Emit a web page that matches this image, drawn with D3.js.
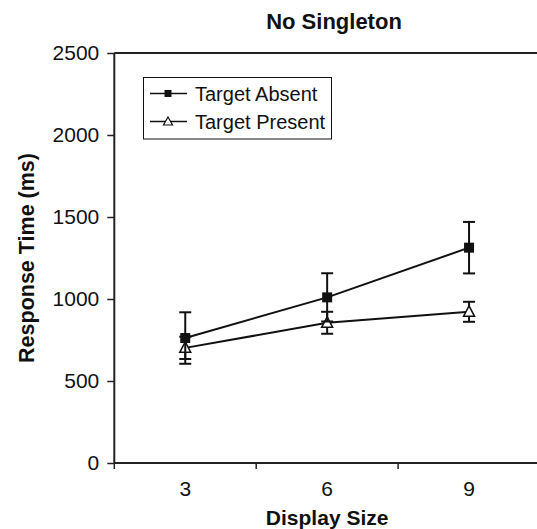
<!DOCTYPE html>
<html>
<head>
<meta charset="utf-8">
<script src="https://cdn.jsdelivr.net/npm/d3@7"></script>
<style>
  html, body { margin: 0; padding: 0; background: #fff; }
  svg { display: block; }
  text { font-family: "Liberation Sans", Arial, Helvetica, sans-serif; fill: #111; }
</style>
</head>
<body>
<svg id="chart" width="537" height="529"></svg>
<script>
const title = "No Singleton";
const xTitle = "Display Size";
const yTitle = "Response Time (ms)";
const categories = ["3", "6", "9"];
const yTicks = [0, 500, 1000, 1500, 2000, 2500];
const seriesNames = ["Target Absent", "Target Present"];
const absentMeans = [762, 1010, 1313];
const absentErrors = [157, 147, 157];
const presentMeans = [702, 855, 922];
const presentErrors = [68, 67, 61];

(function () {
const W = 537, H = 529;
const mLeft = 114.3, mRight = 540, mTop = 53, mBottom = 463;
const svg = d3.select("#chart");

const x = d3.scaleBand().domain(categories).range([mLeft, mRight]).padding(0);
const y = d3.scaleLinear().domain([0, 2500]).range([mBottom, mTop]);

const axisColor = "#222";

// Top border line at 2500
svg.append("line")
  .attr("x1", mLeft).attr("x2", W)
  .attr("y1", y(2500)).attr("y2", y(2500))
  .attr("stroke", axisColor).attr("stroke-width", 2);

// Y axis
const yAxis = svg.append("g")
  .attr("transform", `translate(${mLeft},0)`)
  .call(d3.axisLeft(y).tickValues(yTicks).tickSize(7).tickPadding(8).tickFormat(d3.format("d")));
yAxis.select(".domain").attr("stroke", axisColor).attr("stroke-width", 2)
  .attr("d", `M0,${mTop}V${mBottom}`);
yAxis.selectAll(".tick line").attr("stroke", axisColor).attr("stroke-width", 1.5);
yAxis.selectAll(".tick text")
  .style("font-size", "21px").style("font-family", "'Liberation Sans', Arial, sans-serif")
  .attr("fill", "#111");

// X axis: ticks at band boundaries, labels at band centers
const xAxisG = svg.append("g").attr("transform", `translate(0,${mBottom})`);
xAxisG.append("line").attr("x1", mLeft).attr("x2", W).attr("y1", 0).attr("y2", 0)
  .attr("stroke", axisColor).attr("stroke-width", 2);
const boundaries = categories.map(c => x(c)).concat([x(categories[categories.length - 1]) + x.bandwidth()]);
xAxisG.selectAll("line.xt").data(boundaries).enter().append("line")
  .attr("class", "xt")
  .attr("x1", d => d).attr("x2", d => d).attr("y1", 0).attr("y2", 6)
  .attr("stroke", axisColor).attr("stroke-width", 1.5);
xAxisG.selectAll("text.xl").data(categories).enter().append("text")
  .attr("class", "xl")
  .attr("x", d => x(d) + x.bandwidth() / 2)
  .attr("y", 33)
  .attr("text-anchor", "middle")
  .style("font-size", "21px")
  .text(d => d);

// Titles
svg.append("text").attr("x", 334).attr("y", 29).attr("text-anchor", "middle")
  .style("font-size", "22px").style("font-weight", "bold").text(title);
svg.append("text").attr("x", (mLeft + mRight) / 2).attr("y", 525).attr("text-anchor", "middle")
  .style("font-size", "21px").style("font-weight", "bold").text(xTitle);
svg.append("text")
  .attr("transform", `translate(34,258) rotate(-90)`)
  .attr("text-anchor", "middle")
  .style("font-size", "21.5px").style("font-weight", "bold").text(yTitle);

const cx = c => x(c) + x.bandwidth() / 2;

function drawSeries(means, errors, marker) {
  const data = categories.map((c, i) => ({ c, m: means[i], e: errors[i] }));
  const line = d3.line().x(d => cx(d.c)).y(d => y(d.m));
  svg.append("path").datum(data).attr("d", line)
    .attr("fill", "none").attr("stroke", "#111").attr("stroke-width", 2);
  const g = svg.append("g");
  data.forEach(d => {
    const px = cx(d.c);
    g.append("line").attr("x1", px).attr("x2", px)
      .attr("y1", y(d.m - d.e)).attr("y2", y(d.m + d.e))
      .attr("stroke", "#111").attr("stroke-width", 2);
    [d.m - d.e, d.m + d.e].forEach(v => {
      g.append("line").attr("x1", px - 6).attr("x2", px + 6)
        .attr("y1", y(v)).attr("y2", y(v))
        .attr("stroke", "#111").attr("stroke-width", 2);
    });
  });
  data.forEach(d => {
    const px = cx(d.c), py = y(d.m);
    if (marker === "square") {
      g.append("rect").attr("x", px - 5).attr("y", py - 5).attr("width", 10).attr("height", 10)
        .attr("fill", "#111");
    } else {
      g.append("path")
        .attr("d", `M${px},${py - 6}L${px + 5.5},${py + 4.5}L${px - 5.5},${py + 4.5}Z`)
        .attr("fill", "#fff").attr("stroke", "#111").attr("stroke-width", 1.5);
    }
  });
}

drawSeries(presentMeans, presentErrors, "triangle");
drawSeries(absentMeans, absentErrors, "square");

// Legend
const lg = svg.append("g");
lg.append("rect").attr("x", 143.5).attr("y", 77.5).attr("width", 188).attr("height", 61.5)
  .attr("fill", "#fff").attr("stroke", "#111").attr("stroke-width", 1);
const rows = [93.5, 121.5];
seriesNames.forEach((name, i) => {
  const ry = rows[i];
  lg.append("line").attr("x1", 150).attr("x2", 187).attr("y1", ry).attr("y2", ry)
    .attr("stroke", "#111").attr("stroke-width", 1.5);
  if (i === 0) {
    lg.append("rect").attr("x", 164.5).attr("y", ry - 3.5).attr("width", 7).attr("height", 7).attr("fill", "#111");
  } else {
    lg.append("path").attr("d", `M168,${ry - 4.5}L172.5,${ry + 3.5}L163.5,${ry + 3.5}Z`)
      .attr("fill", "#fff").attr("stroke", "#111").attr("stroke-width", 1.2);
  }
  lg.append("text").attr("x", 195).attr("y", ry).attr("dy", "0.36em")
    .style("font-size", "20px").text(name);
});
})();
</script>
</body>
</html>
